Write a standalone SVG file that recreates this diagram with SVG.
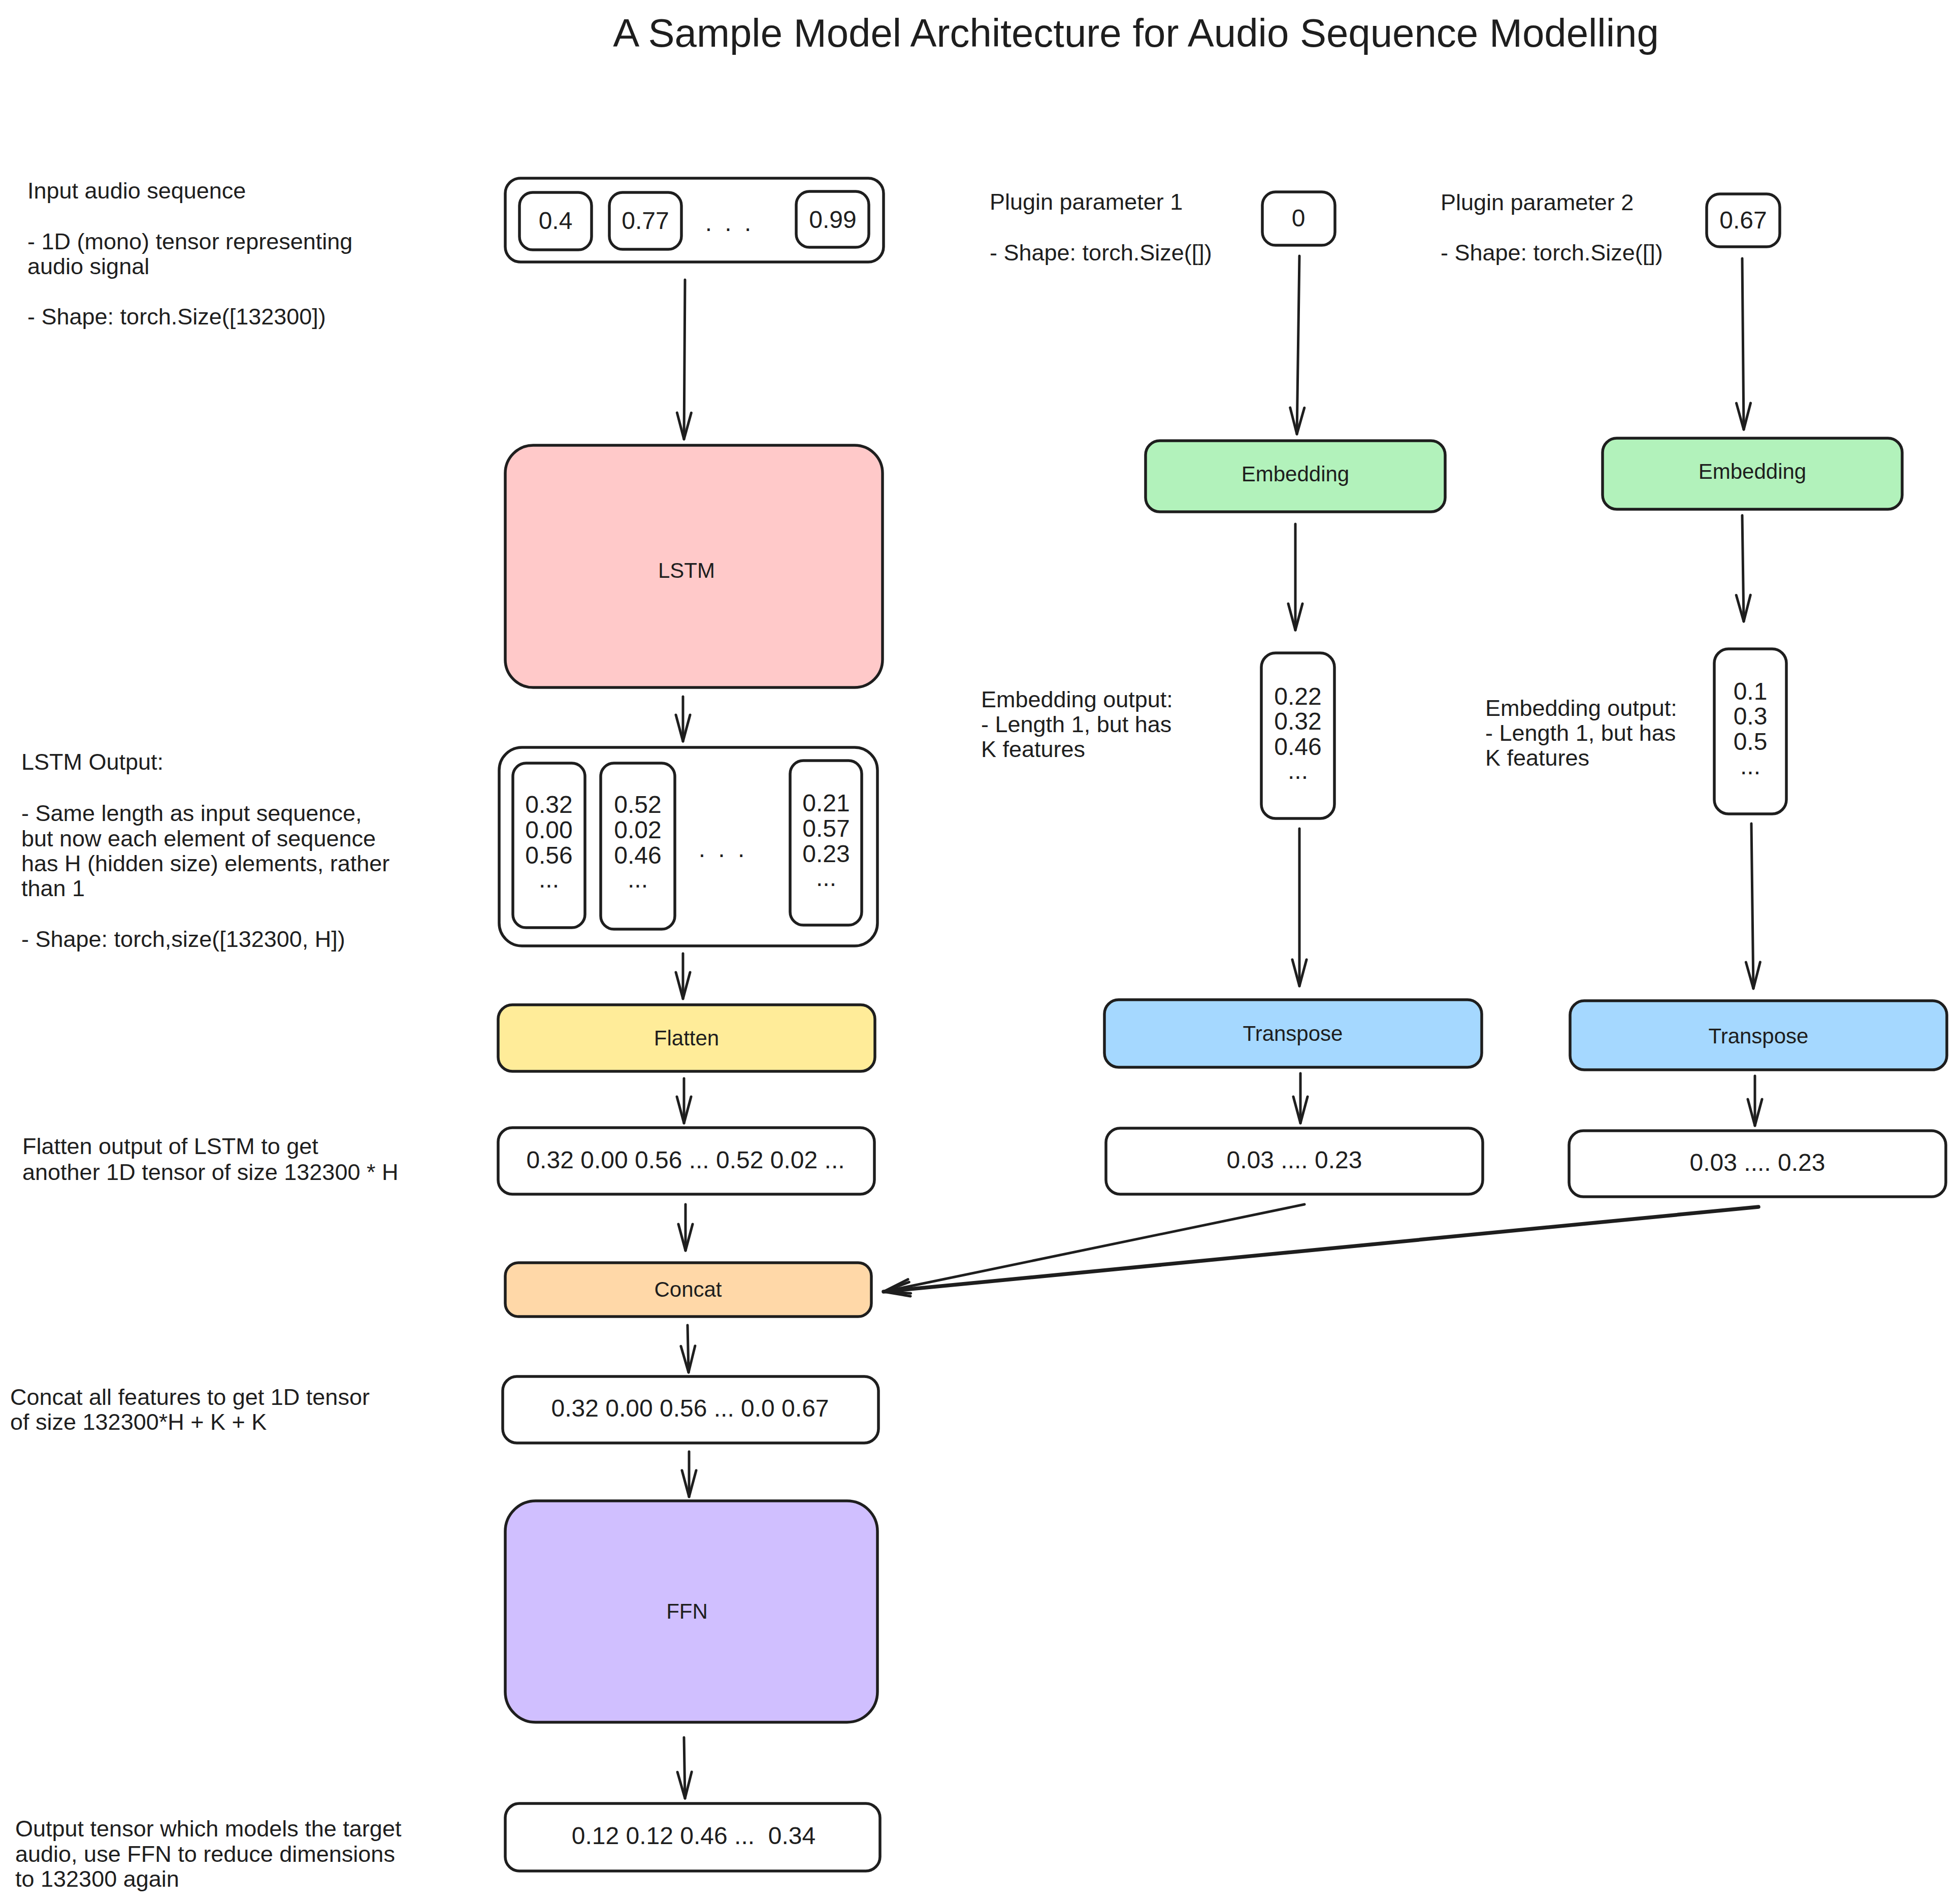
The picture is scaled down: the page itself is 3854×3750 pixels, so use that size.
<svg xmlns="http://www.w3.org/2000/svg" width="3854" height="3750" viewBox="0 0 3854 3750">
<defs>
<style>
text { font-family: "Liberation Sans", Arial, sans-serif; fill: #1e1e1e; }
.d { font-size: 45px; }
.ttl { font-size: 78px; text-anchor: middle; }
.n { font-size: 48px; text-anchor: middle; }
.l { font-size: 42px; text-anchor: middle; }
.b { stroke: #1e1e1e; stroke-width: 5.5; fill: #ffffff; }
.conn path { stroke: #1e1e1e; stroke-width: 5; fill: none; stroke-linecap: round; }
</style>
<marker id="ah" markerUnits="userSpaceOnUse" markerWidth="70" markerHeight="40" viewBox="-60 -20 70 40" refX="0" refY="0" orient="auto" overflow="visible">
<path d="M-52,-14 L0,0 L-52,14" fill="none" stroke="#1e1e1e" stroke-width="5" stroke-linecap="round" stroke-linejoin="round"/>
</marker>
</defs>
<rect width="3854" height="3750" fill="#ffffff"/>

<g id="title"><text class="ttl" x="2237" y="92">A Sample Model Architecture for Audio Sequence Modelling</text></g>

<g id="input-desc">
<text class="d" x="54" y="391">Input audio sequence</text>
<text class="d" x="54" y="491">- 1D (mono) tensor representing</text>
<text class="d" x="54" y="540">audio signal</text>
<text class="d" x="54" y="639">- Shape: torch.Size([132300])</text>
</g>

<g id="lstm-desc">
<text class="d" x="42" y="1516">LSTM Output:</text>
<text class="d" x="42" y="1617">- Same length as input sequence,</text>
<text class="d" x="42" y="1667">but now each element of sequence</text>
<text class="d" x="42" y="1716">has H (hidden size) elements, rather</text>
<text class="d" x="42" y="1765">than 1</text>
<text class="d" x="42" y="1865">- Shape: torch,size([132300, H])</text>
</g>

<g id="flatten-desc">
<text class="d" x="44" y="2273">Flatten output of LSTM to get</text>
<text class="d" x="44" y="2324">another 1D tensor of size 132300 * H</text>
</g>

<g id="concat-desc">
<text class="d" x="20" y="2767">Concat all features to get 1D tensor</text>
<text class="d" x="20" y="2816">of size 132300*H + K + K</text>
</g>

<g id="output-desc">
<text class="d" x="30" y="3617">Output tensor which models the target</text>
<text class="d" x="30" y="3667">audio, use FFN to reduce dimensions</text>
<text class="d" x="30" y="3716">to 132300 again</text>
</g>

<g id="param1-desc">
<text class="d" x="1949" y="413">Plugin parameter 1</text>
<text class="d" x="1949" y="513">- Shape: torch.Size([])</text>
</g>
<g id="param2-desc">
<text class="d" x="2837" y="414">Plugin parameter 2</text>
<text class="d" x="2837" y="513">- Shape: torch.Size([])</text>
</g>

<g id="emb1-desc">
<text class="d" x="1932" y="1393">Embedding output:</text>
<text class="d" x="1932" y="1442">- Length 1, but has</text>
<text class="d" x="1932" y="1491">K features</text>
</g>
<g id="emb2-desc">
<text class="d" x="2925" y="1410">Embedding output:</text>
<text class="d" x="2925" y="1459">- Length 1, but has</text>
<text class="d" x="2925" y="1508">K features</text>
</g>

<g id="input-seq">
<rect class="b" x="995" y="351" width="745" height="165" rx="30"/>
<g id="in-0"><rect class="b" x="1023" y="379" width="142" height="113" rx="26"/><text class="n" x="1094" y="451">0.4</text></g>
<g id="in-1"><rect class="b" x="1200" y="379" width="142" height="112" rx="26"/><text class="n" x="1271" y="451">0.77</text></g>
<text class="n" x="1437" y="455" style="letter-spacing:6px">. . .</text>
<g id="in-n"><rect class="b" x="1568" y="377" width="143" height="110" rx="26"/><text class="n" x="1640" y="449">0.99</text></g>
</g>

<g id="lstm">
<rect class="b" x="995" y="877" width="743" height="477" rx="55" style="fill:#ffc9c9"/>
<text class="l" x="1352" y="1138">LSTM</text>
</g>

<g id="lstm-out">
<rect class="b" x="983" y="1472" width="745" height="391" rx="45"/>
<g id="lo-0"><rect class="b" x="1010" y="1503" width="142" height="324" rx="26"/>
<text class="n" x="1081" y="1601">0.32</text><text class="n" x="1081" y="1651">0.00</text><text class="n" x="1081" y="1701">0.56</text><text class="n" x="1081" y="1748">...</text></g>
<g id="lo-1"><rect class="b" x="1183" y="1503" width="146" height="327" rx="26"/>
<text class="n" x="1256" y="1601">0.52</text><text class="n" x="1256" y="1651">0.02</text><text class="n" x="1256" y="1701">0.46</text><text class="n" x="1256" y="1748">...</text></g>
<text class="n" x="1424" y="1688" style="letter-spacing:6px">. . .</text>
<g id="lo-n"><rect class="b" x="1556" y="1498" width="141" height="324" rx="26"/>
<text class="n" x="1627" y="1598">0.21</text><text class="n" x="1627" y="1648">0.57</text><text class="n" x="1627" y="1698">0.23</text><text class="n" x="1627" y="1745">...</text></g>
</g>

<g id="flatten">
<rect class="b" x="981" y="1979" width="742" height="131" rx="28" style="fill:#ffec99"/>
<text class="l" x="1352" y="2059">Flatten</text>
</g>

<g id="flatten-out">
<rect class="b" x="981" y="2221" width="741" height="131" rx="28"/>
<text class="n" x="1350" y="2301">0.32 0.00 0.56 ... 0.52 0.02 ...</text>
</g>

<g id="concat">
<rect class="b" x="995" y="2487" width="721" height="106" rx="26" style="fill:#ffd8a8"/>
<text class="l" x="1355" y="2554">Concat</text>
</g>

<g id="concat-out">
<rect class="b" x="990" y="2711" width="740" height="131" rx="28"/>
<text class="n" x="1359" y="2790">0.32 0.00 0.56 ... 0.0 0.67</text>
</g>

<g id="ffn">
<rect class="b" x="995" y="2956" width="733" height="436" rx="60" style="fill:#d0bfff"/>
<text class="l" x="1353" y="3188">FFN</text>
</g>

<g id="output">
<rect class="b" x="995" y="3552" width="738" height="133" rx="28"/>
<text class="n" x="1366" y="3632" style="white-space:pre">0.12 0.12 0.46 ...  0.34</text>
</g>

<g id="param1">
<rect class="b" x="2486" y="378" width="143" height="105" rx="26"/>
<text class="n" x="2557" y="446">0</text>
</g>
<g id="param2">
<rect class="b" x="3361" y="382" width="144" height="104" rx="26"/>
<text class="n" x="3433" y="450">0.67</text>
</g>

<g id="embedding1">
<rect class="b" x="2256" y="868" width="590" height="140" rx="28" style="fill:#b2f2bb"/>
<text class="l" x="2551" y="948">Embedding</text>
</g>
<g id="embedding2">
<rect class="b" x="3156" y="863" width="590" height="140" rx="28" style="fill:#b2f2bb"/>
<text class="l" x="3451" y="943">Embedding</text>
</g>

<g id="emb1-out">
<rect class="b" x="2484" y="1286" width="144" height="326" rx="28"/>
<text class="n" x="2556" y="1388">0.22</text><text class="n" x="2556" y="1437">0.32</text><text class="n" x="2556" y="1487">0.46</text><text class="n" x="2556" y="1534">...</text>
</g>
<g id="emb2-out">
<rect class="b" x="3376" y="1278" width="142" height="325" rx="28"/>
<text class="n" x="3447" y="1378">0.1</text><text class="n" x="3447" y="1427">0.3</text><text class="n" x="3447" y="1477">0.5</text><text class="n" x="3447" y="1525">...</text>
</g>

<g id="transpose1">
<rect class="b" x="2175" y="1969" width="743" height="133" rx="28" style="fill:#a5d8ff"/>
<text class="l" x="2546" y="2050">Transpose</text>
</g>
<g id="transpose2">
<rect class="b" x="3092" y="1971" width="742" height="136" rx="28" style="fill:#a5d8ff"/>
<text class="l" x="3463" y="2055">Transpose</text>
</g>

<g id="transpose1-out">
<rect class="b" x="2178" y="2222" width="742" height="130" rx="28"/>
<text class="n" x="2549" y="2301">0.03 .... 0.23</text>
</g>
<g id="transpose2-out">
<rect class="b" x="3090" y="2227" width="742" height="130" rx="28"/>
<text class="n" x="3461" y="2306">0.03 .... 0.23</text>
</g>

<g id="connectors" class="conn">
<path d="M1349,551 L1347,865" marker-end="url(#ah)"/>
<path d="M1345,1372 L1345,1460" marker-end="url(#ah)"/>
<path d="M1345,1878 L1345,1967" marker-end="url(#ah)"/>
<path d="M1347,2124 L1347,2212" marker-end="url(#ah)"/>
<path d="M1350,2372 L1350,2463" marker-end="url(#ah)"/>
<path d="M1354,2610 L1356,2703" marker-end="url(#ah)"/>
<path d="M1357,2859 L1357,2948" marker-end="url(#ah)"/>
<path d="M1347,3422 L1349,3542" marker-end="url(#ah)"/>
<path d="M2559,504 L2554,855" marker-end="url(#ah)"/>
<path d="M3431,509 L3434,846" marker-end="url(#ah)"/>
<path d="M2551,1032 L2551,1241" marker-end="url(#ah)"/>
<path d="M3431,1015 L3434,1224" marker-end="url(#ah)"/>
<path d="M2559,1632 L2559,1942" marker-end="url(#ah)"/>
<path d="M3449,1622 L3453,1947" marker-end="url(#ah)"/>
<path d="M2561,2114 L2561,2212" marker-end="url(#ah)"/>
<path d="M3456,2119 L3456,2217" marker-end="url(#ah)"/>
<path d="M2569,2372 L1740,2544" marker-end="url(#ah)"/>
<path d="M3463,2377 L1740,2544" marker-end="url(#ah)" style="stroke-width:7.5"/>
</g>
</svg>
